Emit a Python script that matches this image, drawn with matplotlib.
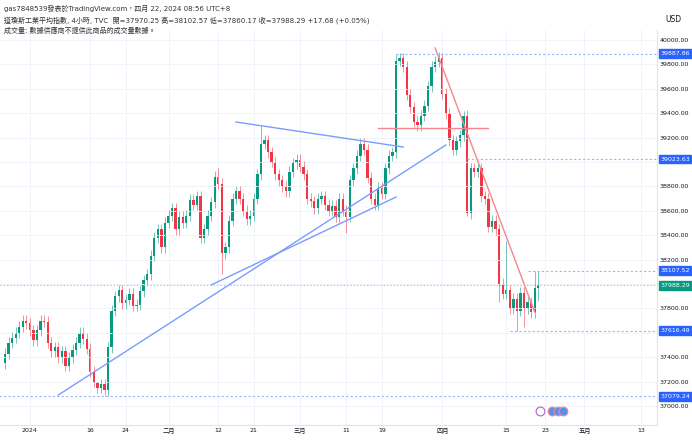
import matplotlib.pyplot as plt
from matplotlib.patches import Rectangle
from matplotlib.transforms import blended_transform_factory

plt.rcParams['font.family'] = ['DejaVu Sans', 'Noto Sans CJK TC']

# 4h closes
closes = [
    37430, 37520, 37560, 37600, 37650, 37700, 37680, 37620, 37540, 37620,
    37700, 37690, 37520, 37450, 37480, 37400, 37450, 37330, 37400, 37460,
    37520, 37600, 37550, 37470, 37280, 37200, 37150, 37180, 37130, 37480,
    37780, 37900, 37950, 37840, 37870, 37920, 37820, 37830, 37940, 38030,
    38080, 38230, 38380, 38450, 38300, 38500, 38560, 38620, 38450, 38550,
    38500, 38560, 38690, 38650, 38720, 38380, 38450, 38560, 38670, 38880,
    38820, 38250, 38300, 38520, 38700, 38760, 38700, 38600, 38530, 38560,
    38700, 38900, 39150, 39180, 39080, 39000, 38900, 38850, 38800, 38760,
    38920, 38990, 39020, 38960, 38900, 38700, 38680, 38620, 38700, 38720,
    38650, 38600, 38640, 38550, 38700, 38600, 38550, 38850, 38950, 39050,
    39150, 39100, 38870, 38700, 38650, 38790, 38740, 38950, 39050, 39080,
    39830, 39850, 39780, 39550, 39450, 39330, 39300, 39380, 39460, 39620,
    39780, 39820, 39850, 39560, 39400, 39180, 39100, 39170, 39220, 39380,
    38580, 38950, 38920, 38950, 38720, 38700, 38470, 38520, 38450, 38000,
    37920, 37950, 37800, 37880, 37780, 37930, 37800, 37850, 37770, 37970,
    37988,
]
first_open = 37350
# notable wick extremes (index: value)
highs_special = {26: 37200, 60: 38950, 72: 39300, 110: 39887.86, 122: 39900, 129: 39420,
                 141: 38350, 149: 38107.52, 150: 38102.57}
lows_special = {28: 37080, 61: 38080, 96: 38420, 130: 38560, 139: 37850,
                144: 37616.49, 146: 37650, 150: 37860.17}

tick_pos = [7, 24, 34, 46, 60, 70, 83, 96, 106, 123, 141, 152, 163, 179]
tick_lab = ['2024', '16', '24', '二月', '12', '21', '三月', '11', '19', '四月', '15', '23', '五月', '13']
yticks = list(range(37000, 40001, 200))

# drawings: (x0, y0, x1, y1) in index / price
blue_lines = [(15, 37090, 124, 39139), (58, 37992, 110, 38713), (65, 39328, 112, 39123)]
red_lines = [(121, 39934, 149, 37770), (105, 39279, 136, 39279)]
levels = [(39887.86, 110), (39023.63, 130), (38107.52, 147), (37616.49, 142), (37079.24, -2)]
last_close = 37988.29

green, red, blue = '#089981', '#f23645', '#2962ff'

fig = plt.figure(figsize=(6.92, 4.43), dpi=100)
ax = fig.add_axes([0.0, 1 - 425 / 443, 657 / 692, 395 / 443])
xmin, xmax = -1.4, 183.4
ax.set_xlim(xmin, xmax)
ax.set_ylim(36844, 40082)

prev = first_open
for i, c in enumerate(closes):
    o = prev
    col = green if c >= o else red
    hi = highs_special.get(i, max(o, c) + 45)
    lo = lows_special.get(i, min(o, c) - 45)
    ax.vlines(i, lo, hi, color=col, lw=0.7, alpha=0.55)
    ax.add_patch(Rectangle((i - 0.32, min(o, c)), 0.64, max(abs(c - o), 6), color=col, lw=0))
    prev = c

for x0, y0, x1, y1 in blue_lines:
    ax.plot([x0, x1], [y0, y1], color='#7b9cff', lw=1.0)
for x0, y0, x1, y1 in red_lines:
    ax.plot([x0, x1], [y0, y1], color='#f7858d', lw=1.0)
for v, start in levels:
    ax.plot([start, xmax], [v, v], color='#9bb3ff', lw=0.8, ls=(0, (2, 2)))
ax.axhline(last_close, color='#7fcdbb', lw=0.8, ls=(0, (1, 2)))

ax.set_yticks(yticks)
ax.set_xticks(tick_pos)
ax.set_xticklabels(tick_lab)
ax.yaxis.tick_right()
ax.tick_params(axis='both', length=0, labelsize=4.5, colors='#131722', pad=2)
ax.grid(color='#f0f3fa', lw=0.7)
ax.set_yticklabels([f'{t:.2f}' for t in yticks])
for s in ax.spines.values():
    s.set_visible(False)
ax.spines['right'].set_visible(True)
ax.spines['right'].set_color('#e0e3eb')
ax.spines['bottom'].set_visible(True)
ax.spines['bottom'].set_color('#e0e3eb')

# price boxes drawn over the axis labels
tr = blended_transform_factory(fig.transFigure, ax.transData)
for v, _ in levels:
    fig.text(661 / 692, v, f'{v:.2f}', transform=tr, fontsize=4.5, color='white', va='center', ha='left',
             zorder=10, bbox=dict(boxstyle='square,pad=0.3', fc=blue, ec=blue))
fig.text(661 / 692, last_close, f'{last_close:.2f}', transform=tr, fontsize=4.5, color='white',
         va='center', ha='left', zorder=10, bbox=dict(boxstyle='square,pad=0.3', fc=green, ec=green))

# event icons near the bottom
ax.scatter([150.5], [36955], s=40, facecolor='white', edgecolor='#b35fd6', lw=0.8, zorder=5)
ax.scatter([154, 155.5, 157], [36955] * 3, s=40, facecolor='#5b8def', edgecolor='#f28b8b', lw=0.8, zorder=5)

fig.text(4 / 692, 1 - 8 / 443, 'gas7848539發表於TradingView.com，四月 22, 2024 08:56 UTC+8',
         fontsize=5, color='#333333', va='center')
fig.text(4 / 692, 1 - 20 / 443, '道瓊斯工業平均指數, 4小時, TVC  開=37970.25 高=38102.57 低=37860.17 收=37988.29 +17.68 (+0.05%)',
         fontsize=5, color='#333333', va='center')
fig.text(4 / 692, 1 - 30 / 443, '成交量: 數據供應商不提供此商品的成交量數據。', fontsize=5, color='#333333', va='center')
fig.text(673 / 692, 1 - 20 / 443, 'USD', fontsize=5.5, color='#131722', ha='center', va='center')

fig.savefig('out.png', dpi=100, facecolor='white')
